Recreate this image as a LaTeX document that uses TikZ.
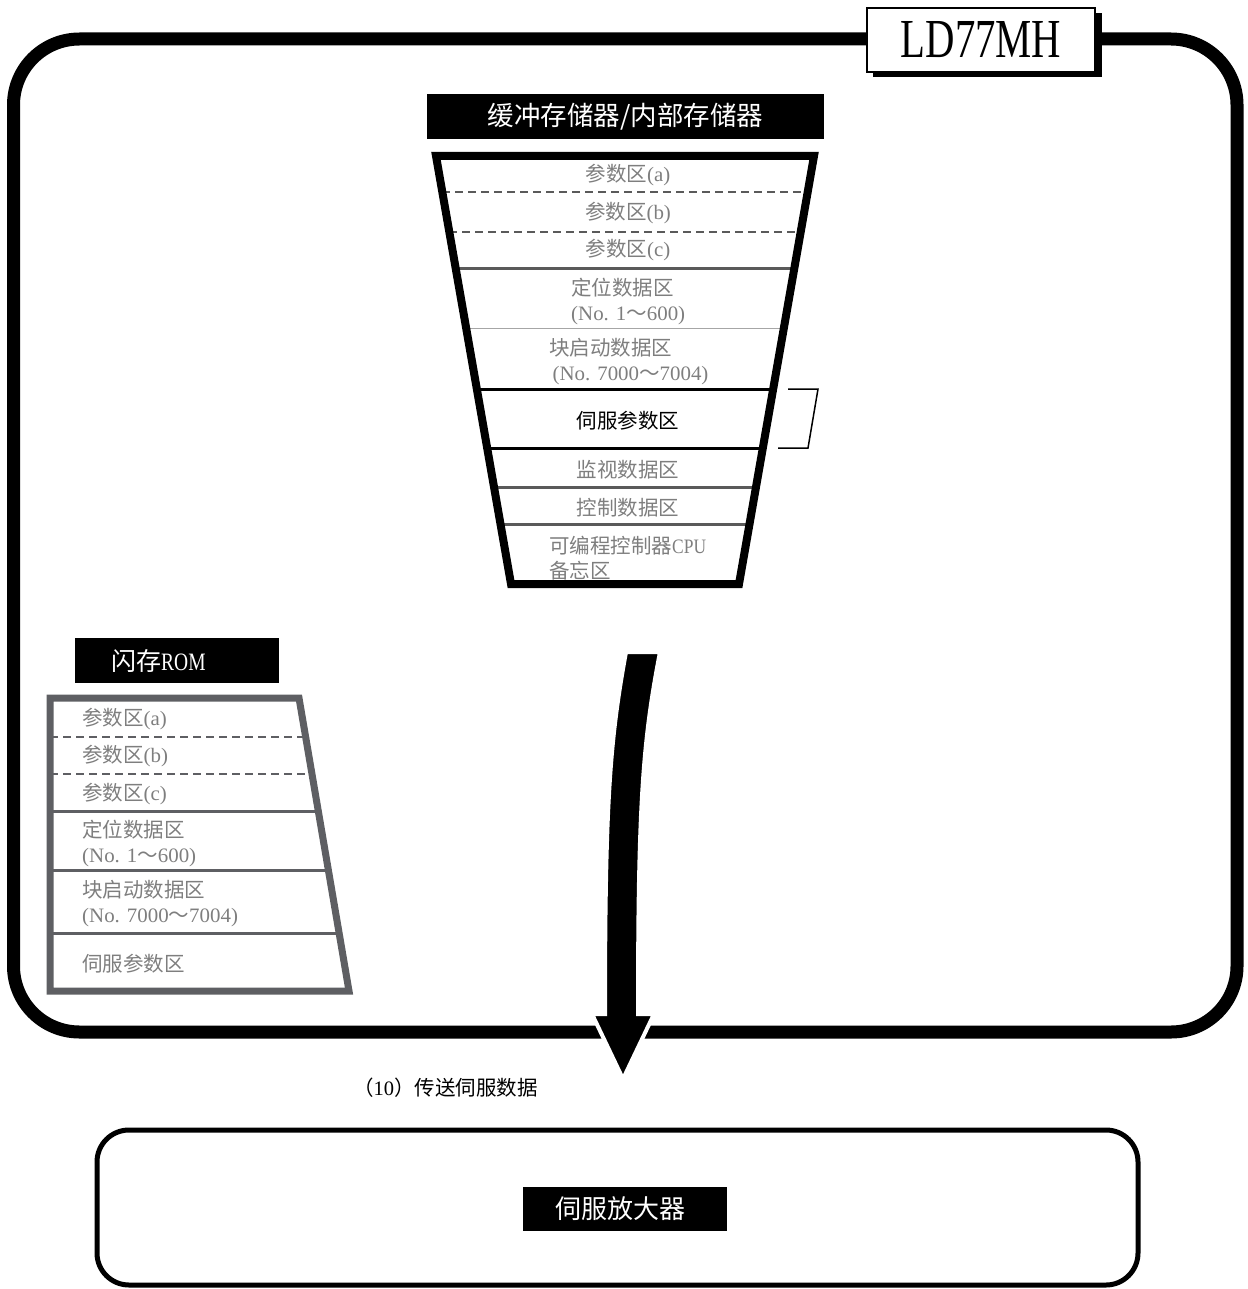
\documentclass[tikz,border=0pt]{standalone}
\usepackage{fontspec}
\setmainfont{Liberation Serif}
\newfontfamily\cjk{Noto Sans CJK SC}
\newcommand\zh[1]{{\cjk #1}}
\newcommand\lt[1]{\scalebox{1.02}[1]{#1}}
\usetikzlibrary{calc}
\definecolor{labgray}{HTML}{7E7E7E}
\definecolor{flgray}{HTML}{5E5F63}
\definecolor{divgray}{HTML}{5A5A5A}
\begin{document}
\begin{tikzpicture}[x=1pt,y=-1pt,
  lbl/.style={text=labgray, font=\fontsize{20.5}{25}\selectfont, inner sep=0pt, align=left},
  lblk/.style={lbl, text=black},
  hdr/.style={fill=black, text=white, inner sep=0pt},
  dashdiv/.style={divgray, line width=2.5, dash pattern=on 8pt off 5pt},
  soliddiv/.style={divgray, line width=3},
  blackdiv/.style={black, line width=3}]
\useasboundingbox (0,0) rectangle (1247,1289);

% outer module frame
\draw[line width=13, rounded corners=66] (13.5,39) rectangle (1237,1032);

% LD77MH title box with shadow
\fill[black] (873,13) rectangle (1102,77);
\node[draw, fill=white, line width=1.5, minimum width=228, minimum height=64, inner sep=0pt] (ld) at (981,40)
  {\scalebox{0.74}[1]{\fontsize{55}{55}\selectfont LD77MH}};

% buffer memory header
\node[hdr, minimum width=397, minimum height=45] (bufhdr) at (625.5,116.5)
  {\fontsize{26.5}{26.5}\selectfont\zh{缓冲存储器/内部存储器}};

% buffer memory dividers
\draw[dashdiv] (442,192) -- (808,192);
\draw[dashdiv] (449,232) -- (801,232);
\draw[soliddiv] (455,268) -- (795,268);
\draw[black!35, line width=1] (466,328) -- (784,328);
\draw[blackdiv] (477,389) -- (773,389);
\draw[blackdiv] (487,448) -- (763,448);
\draw[soliddiv] (494,487) -- (756,487);
\draw[soliddiv] (500,524) -- (750,524);
% buffer memory outline
\draw[line width=8, line join=miter] (436,156) -- (814,156) -- (739,584) -- (511,584) -- cycle;

% buffer memory labels
\node[lbl] (ba) at (628,175) {\zh{参数区}\lt{(a)}};
\node[lbl] (bb) at (628,213) {\zh{参数区}\lt{(b)}};
\node[lbl] (bc) at (628,250) {\zh{参数区}\lt{(c)}};
\node[lbl, anchor=west] (bpos) at (571,301) {\zh{定位数据区}\\\lt{(No. 1}\zh{～}\lt{600)}};
\node[lbl, anchor=west] (bblk) at (549,361.5) {\zh{块启动数据区}\\\,\lt{(No. 7000}\zh{～}\lt{7004)}};
\node[lblk] (bservo) at (628,421) {\zh{伺服参数区}};
\node[lbl] (bmon) at (628,470) {\zh{监视数据区}};
\node[lbl] (bctl) at (628,508) {\zh{控制数据区}};
\node[lbl, anchor=west] (bcpu) at (549,558) {\zh{可编程控制器}\scalebox{0.85}[1]{CPU}\\\zh{备忘区}};

% bracket at servo parameter area
\draw[line width=1.5] (788,389) -- (818,389) -- (808,448) -- (778,448);

% flash ROM header
\node[hdr, minimum width=204, minimum height=45] (flhdr) at (177,660.5) {};
\node[text=white, inner sep=0pt, anchor=west, font=\fontsize{25}{25}\selectfont] (flt) at (111,660.5) {\zh{闪存}\scalebox{0.78}[1]{ROM}};

% flash ROM dividers
\draw[flgray, line width=2.5, dash pattern=on 8pt off 5pt] (50,737) -- (306,737);
\draw[flgray, line width=2.5, dash pattern=on 8pt off 5pt] (50,774) -- (312,774);
\draw[flgray, line width=3] (50,811) -- (318,811);
\draw[flgray, line width=3] (50,870) -- (328,870);
\draw[flgray, line width=3] (50,933) -- (339,933);
% flash ROM outline
\draw[flgray, line width=7, line join=miter] (50,698) -- (299,698) -- (349,991) -- (50,991) -- cycle;

% flash ROM labels
\node[lbl, anchor=west] (fa) at (82,719) {\zh{参数区}\lt{(a)}};
\node[lbl, anchor=west] (fb) at (82,756) {\zh{参数区}\lt{(b)}};
\node[lbl, anchor=west] (fc) at (82,794) {\zh{参数区}\lt{(c)}};
\node[lbl, anchor=west] (fpos) at (82,843.5) {\zh{定位数据区}\\\lt{(No. 1}\zh{～}\lt{600)}};
\node[lbl, anchor=west] (fblk) at (82,903.5) {\zh{块启动数据区}\\\lt{(No. 7000}\zh{～}\lt{7004)}};
\node[lbl, anchor=west] (fservo) at (82,964) {\zh{伺服参数区}};

% big transfer arrow
\fill[black, draw=white, line width=4, line join=miter]
  (626,652) .. controls (610,740) and (605,800) .. (605,1014)
  -- (592,1014) -- (623,1079) -- (654,1014) -- (638,1014)
  .. controls (638,800) and (643,740) .. (660,652) -- cycle;

\node[anchor=west, inner sep=0pt, font=\fontsize{20.5}{20.5}\selectfont] (xfer) at (353,1088)
  {\zh{（}10\zh{）传送伺服数据}};

% servo amplifier box
\node[draw, line width=5, rounded corners=32, minimum width=1041, minimum height=155] (ampbox) at (617.5,1207.5) {};
\node[hdr, minimum width=204, minimum height=44] (amp) at (625,1209)
  {\fontsize{26}{26}\selectfont\zh{伺服放大器}\hspace*{10pt}};
\end{tikzpicture}
\end{document}
